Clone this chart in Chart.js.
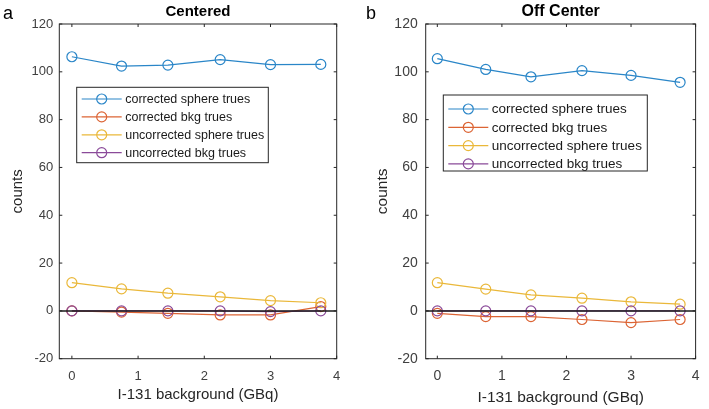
<!DOCTYPE html>
<html>
<head>
<meta charset="utf-8">
<script src="https://cdn.jsdelivr.net/npm/chart.js@4.4.0/dist/chart.umd.min.js"></script>
<style>
  body { margin: 0; background: #fff; width: 709px; height: 409px; position: relative; overflow: hidden; }
  .panel { position: absolute; top: 0; height: 409px; }
  #pa { left: 0; width: 354px; }
  #pb { left: 354px; width: 355px; }
</style>
</head>
<body>
<div class="panel" id="pa"><canvas id="chartA"></canvas></div>
<div class="panel" id="pb"><canvas id="chartB"></canvas></div>
<script>
// data
const gbq = [0, 0.75, 1.45, 2.24, 3.0, 3.76];
const xTickVals = [0, 1, 2, 3, 4];
const seriesNames = ['corrected sphere trues', 'corrected bkg trues', 'uncorrected sphere trues', 'uncorrected bkg trues'];
const seriesColors = ['#2a86c8', '#dc6434', '#eab83a', '#8a4a99'];

const centeredCorrSphere = [106.3, 102.4, 102.8, 105.1, 103.0, 103.1];
const centeredCorrBkg = [0, -0.5, -1.0, -1.7, -1.7, 1.8];
const centeredUncorrSphere = [11.8, 9.2, 7.4, 5.9, 4.3, 3.4];
const centeredUncorrBkg = [0, 0, 0, 0, -0.3, 0];

const offCorrSphere = [105.5, 101.0, 97.9, 100.5, 98.5, 95.6];
const offCorrBkg = [-1.0, -2.4, -2.4, -3.6, -4.9, -3.6];
const offUncorrSphere = [11.8, 9.1, 6.7, 5.3, 3.8, 2.8];
const offUncorrBkg = [0, 0, 0, 0, 0, 0];

const FONT = '"Liberation Sans", Arial, sans-serif';

function pts(ys) {
  return gbq.map((x, i) => ({ x: x, y: ys[i] }));
}

const framePlugin = {
  id: 'frame',
  afterDatasetsDraw(chart, args, o) {
    const { ctx, chartArea: a, scales: { x, y } } = chart;
    const seg = (x1, y1, x2, y2) => { ctx.beginPath(); ctx.moveTo(x1, y1); ctx.lineTo(x2, y2); ctx.stroke(); };
    ctx.save();
    // zero line
    ctx.strokeStyle = '#1a1a1a';
    ctx.lineWidth = 1.5;
    const y0 = y.getPixelForValue(0);
    seg(a.left, y0, a.right, y0);
    // box + inward ticks
    ctx.strokeStyle = '#262626';
    ctx.lineWidth = 1;
    ctx.strokeRect(a.left, a.top, a.right - a.left, a.bottom - a.top);
    x.ticks.forEach(t => {
      const p = x.getPixelForValue(t.value);
      seg(p, a.bottom, p, a.bottom - 3);
      seg(p, a.top, p, a.top + 3);
    });
    y.ticks.forEach(t => {
      const p = y.getPixelForValue(t.value);
      seg(a.left, p, a.left + 3, p);
      seg(a.right, p, a.right - 3, p);
    });
    // legend
    const L = o.legend;
    ctx.fillStyle = '#fff';
    ctx.fillRect(L.x, L.y, L.w, L.h);
    ctx.strokeRect(L.x, L.y, L.w, L.h);
    ctx.font = L.size + 'px ' + FONT;
    ctx.textAlign = 'left';
    ctx.textBaseline = 'middle';
    chart.data.datasets.forEach((ds, i) => {
      const cy = L.first + i * L.step;
      ctx.strokeStyle = ds.borderColor;
      ctx.lineWidth = 1.2;
      seg(L.x + 5, cy, L.x + 45, cy);
      ctx.beginPath();
      ctx.arc(L.x + 25, cy, 5, 0, Math.PI * 2);
      ctx.stroke();
      ctx.fillStyle = '#1a1a1a';
      ctx.fillText(ds.label, L.x + 48.5, cy + 0.5);
    });
    // title and panel tag
    ctx.fillStyle = '#000';
    ctx.textAlign = 'center';
    ctx.font = 'bold ' + o.titleSize + 'px ' + FONT;
    ctx.fillText(o.title, (a.left + a.right) / 2, 11.5);
    ctx.font = '18px ' + FONT;
    ctx.fillText(o.tag, o.tagX, 14.5);
    ctx.restore();
  }
};

function makeChart(id, data, cfg) {
  return new Chart(document.getElementById(id), {
    type: 'line',
    data: {
      datasets: data.map((ys, i) => ({
        label: seriesNames[i],
        data: pts(ys),
        borderColor: seriesColors[i],
        pointBorderColor: seriesColors[i],
        pointBackgroundColor: 'rgba(0,0,0,0)',
        borderWidth: 1.2,
        pointRadius: 5,
        pointHoverRadius: 5,
        pointBorderWidth: 1.2,
        tension: 0,
        order: 3 - i
      }))
    },
    options: {
      responsive: true,
      maintainAspectRatio: false,
      animation: false,
      layout: { padding: { top: 24, right: cfg.padRight, left: 0, bottom: 0 } },
      plugins: {
        legend: { display: false },
        tooltip: { enabled: false },
        frame: cfg.frame
      },
      scales: {
        x: {
          type: 'linear',
          min: cfg.xMin,
          max: 4,
          afterBuildTicks: s => { s.ticks = xTickVals.map(v => ({ value: v })); },
          afterFit: s => { s.height = 50.3; },
          grid: { display: false, drawTicks: false },
          border: { display: false },
          ticks: { color: '#404040', font: { family: FONT, size: cfg.tickSize }, padding: cfg.xTickPad, maxRotation: 0 },
          title: { display: true, text: 'I-131 background (GBq)', color: '#262626', font: { family: FONT, size: cfg.axisSize }, padding: { top: 0, bottom: cfg.xTitlePad } }
        },
        y: {
          min: -20,
          max: 120,
          ticks: { stepSize: 20, color: '#404040', font: { family: FONT, size: cfg.tickSize }, padding: cfg.yTickPad },
          afterFit: s => { s.width = cfg.yWidth; },
          grid: { display: false, drawTicks: false },
          border: { display: false },
          title: { display: true, text: 'counts', color: '#262626', font: { family: FONT, size: cfg.axisSize }, padding: { top: cfg.yTitlePad, bottom: 0 } }
        }
      }
    },
    plugins: [framePlugin]
  });
}

makeChart('chartA', [centeredCorrSphere, centeredCorrBkg, centeredUncorrSphere, centeredUncorrBkg], {
  padRight: 17.3, yWidth: 59.3, xMin: -0.19, tickSize: 13, axisSize: 15, xTitlePad: 5, yTitlePad: 9,
  xTickPad: 10, yTickPad: 6,
  frame: { title: 'Centered', titleSize: 15, tag: 'a', tagX: 8,
    legend: { x: 76.7, y: 87.3, w: 191.6, h: 75.4, first: 99, step: 17.9, size: 12.5 } }
});

makeChart('chartB', [offCorrSphere, offCorrBkg, offUncorrSphere, offUncorrBkg], {
  padRight: 5.7, yWidth: 71.7, xMin: -0.18, tickSize: 14, axisSize: 15.5, xTitlePad: 2, yTitlePad: 19,
  xTickPad: 9.5, yTickPad: 8,
  frame: { title: 'Off Center', titleSize: 16, tag: 'b', tagX: 17,
    legend: { x: 89.3, y: 95, w: 204, h: 76, first: 109, step: 18.3, size: 13.5 } }
});
</script>
</body>
</html>
